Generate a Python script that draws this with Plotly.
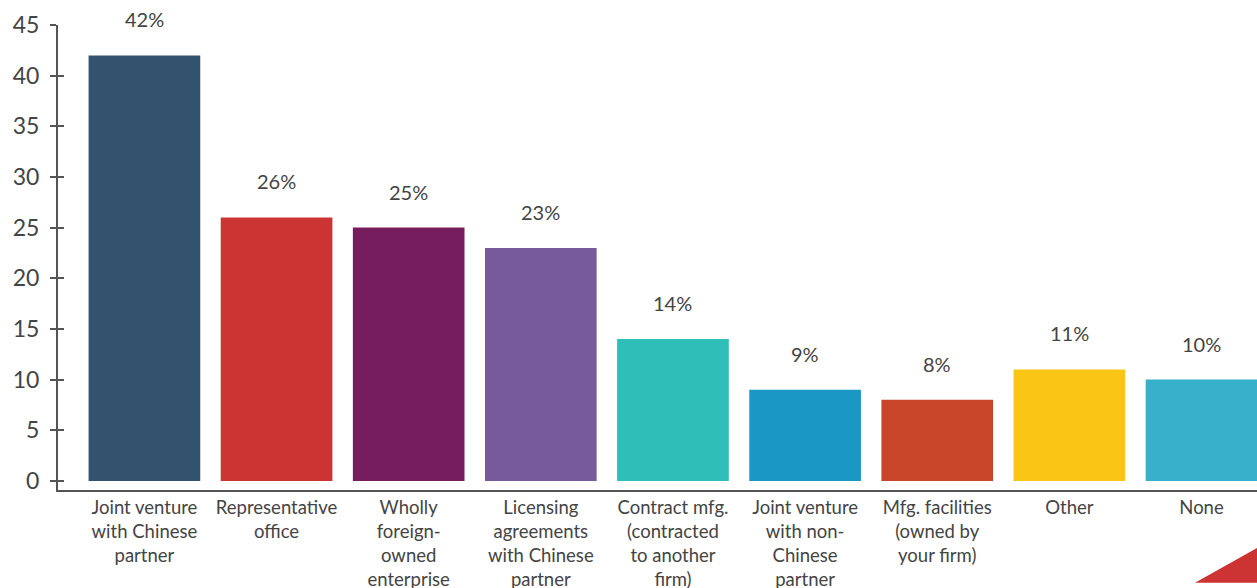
import plotly.graph_objects as go

# Market entry structures, share of respondents (%)
categories = [
    "Joint venture<br>with Chinese<br>partner",
    "Representative<br>office",
    "Wholly<br>foreign-<br>owned<br>enterprise",
    "Licensing<br>agreements<br>with Chinese<br>partner",
    "Contract mfg.<br>(contracted<br>to another<br>firm)",
    "Joint venture<br>with non-<br>Chinese<br>partner",
    "Mfg. facilities<br>(owned by<br>your firm)",
    "Other",
    "None",
]
values = [42, 26, 25, 23, 14, 9, 8, 11, 10]
bar_colors = ["#33526E", "#CC3333", "#761E5D", "#775A9A", "#2FBFB8",
              "#1A97C5", "#C9452A", "#FBC515", "#37B0CB"]
y_ticks = [0, 5, 10, 15, 20, 25, 30, 35, 40, 45]

FONT = "Lato, 'Open Sans', sans-serif"
TEXT = "#444444"
AXIS = "#555555"

xs = list(range(len(categories)))

fig = go.Figure()
fig.add_trace(go.Bar(
    x=xs, y=values, marker=dict(color=bar_colors, line=dict(width=0)),
    width=0.845, hoverinfo="skip",
))
# second y axis only to draw the inner half of the tick marks
fig.add_trace(go.Scatter(x=[xs[0]], y=[0], yaxis="y2", mode="markers",
                         marker=dict(opacity=0), hoverinfo="skip",
                         showlegend=False))

for x, v in zip(xs, values):
    fig.add_annotation(x=x, y=v, text=f"{v}%", showarrow=False,
                       yanchor="bottom", yshift=22,
                       font=dict(family=FONT, size=20, color=TEXT))

# corner accent
fig.add_shape(type="path", xref="paper", yref="paper",
              path="M 0.9483 -0.1997 L 1 -0.1245 L 1 -0.1997 Z",
              fillcolor="#CC3333", line=dict(width=0), layer="above")

fig.update_layout(
    width=1257, height=588,
    margin=dict(l=58, r=0, t=25, b=98, autoexpand=False),
    paper_bgcolor="white", plot_bgcolor="white",
    showlegend=False,
    font=dict(family=FONT, color=TEXT),
    xaxis=dict(
        range=[-0.654, 8.42], tickmode="array", tickvals=xs,
        ticktext=categories, showline=True, linecolor=AXIS, linewidth=2,
        showgrid=False, zeroline=False, ticks="", fixedrange=True,
        automargin=False, ticklabelstandoff=0,
        tickfont=dict(family=FONT, size=18.5, color=TEXT), tickangle=0,
    ),
    yaxis=dict(
        range=[-0.9, 45], tickmode="array", tickvals=y_ticks,
        showline=True, linecolor=AXIS, linewidth=2, showgrid=False,
        zeroline=False, ticks="outside", ticklen=6, tickwidth=1.5,
        tickcolor=AXIS, ticklabelstandoff=6, automargin=False,
        tickfont=dict(family=FONT, size=23, color=TEXT),
    ),
    yaxis2=dict(
        range=[-0.9, 45], overlaying="y", side="left", tickmode="array",
        tickvals=y_ticks, showticklabels=False, showline=False,
        showgrid=False, zeroline=False, ticks="inside", ticklen=6,
        tickwidth=1.5, tickcolor=AXIS, automargin=False,
    ),
)

fig.write_html("out.html")
